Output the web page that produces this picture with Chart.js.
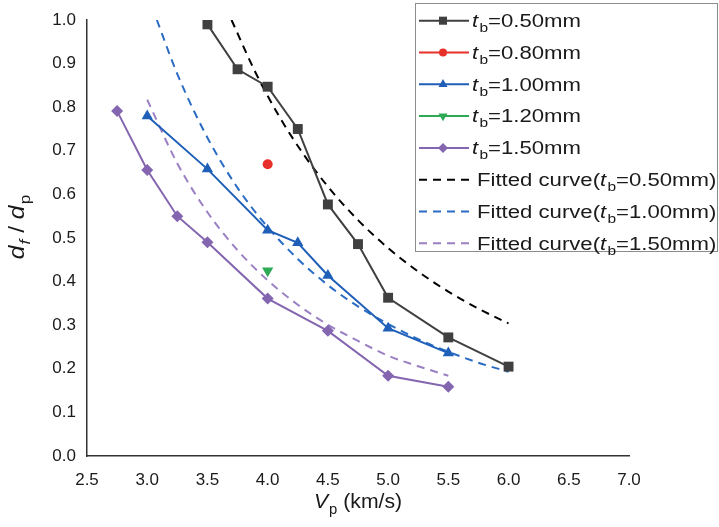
<!DOCTYPE html>
<html><head><meta charset="utf-8">
<script src="https://cdn.jsdelivr.net/npm/chart.js@4/dist/chart.umd.min.js"></script>
<style>html,body{margin:0;padding:0;background:#fff;}#wrap{position:relative;width:719px;height:527px;}</style>
</head><body><div id="wrap"><canvas id="c" width="719" height="527"></canvas></div>
<script>
// ---- data ----
const xTicks = [2.5, 3.0, 3.5, 4.0, 4.5, 5.0, 5.5, 6.0, 6.5, 7.0];
const yTicks = [0.0, 0.1, 0.2, 0.3, 0.4, 0.5, 0.6, 0.7, 0.8, 0.9, 1.0];

const vp050 = [3.5, 3.75, 4.0, 4.25, 4.5, 4.75, 5.0, 5.5, 6.0];
const r050  = [0.99, 0.887, 0.847, 0.75, 0.577, 0.486, 0.363, 0.272, 0.205];
const vp080 = [4.0];
const r080  = [0.669];
const vp100 = [3.0, 3.5, 4.0, 4.25, 4.5, 5.0, 5.5];
const r100  = [0.78, 0.658, 0.518, 0.489, 0.414, 0.293, 0.236];
const vp120 = [4.0];
const r120  = [0.425];
const vp150 = [2.75, 3.0, 3.25, 3.5, 4.0, 4.5, 5.0, 5.5];
const r150  = [0.791, 0.656, 0.55, 0.49, 0.361, 0.287, 0.184, 0.159];

const fitVp050 = [3.7, 3.9, 4.1, 4.3, 4.5, 4.75, 5.0, 5.25, 5.5, 5.75, 6.0];
const fitR050  = [1.0, 0.879, 0.777, 0.691, 0.618, 0.541, 0.477, 0.423, 0.377, 0.338, 0.304];
const fitVp100 = [3.08, 3.25, 3.5, 3.75, 4.0, 4.25, 4.5, 4.75, 5.0, 5.25, 5.5, 5.75, 6.0];
const fitR100  = [1.0, 0.876, 0.730, 0.615, 0.525, 0.452, 0.392, 0.343, 0.303, 0.268, 0.239, 0.214, 0.193];
const fitVp150 = [3.0, 3.25, 3.5, 3.75, 4.0, 4.25, 4.5, 4.75, 5.0, 5.25, 5.5];
const fitR150  = [0.817, 0.671, 0.559, 0.472, 0.403, 0.347, 0.301, 0.264, 0.230, 0.206, 0.184];

const legendLabels = ['0.50mm', '0.80mm', '1.00mm', '1.20mm', '1.50mm', '0.50mm', '1.00mm', '1.50mm'];

// ---- helpers ----
const pts = (xs, ys) => xs.map((x, i) => ({x: x, y: ys[i]}));
const FONT = '"Liberation Sans", Arial, sans-serif';

const C_BLACK = '#404040', C_RED = '#e8302a', C_BLUE = '#1f5fb8', C_GREEN = '#2ea956', C_PURPLE = '#8466b0';

function solid(label, xs, ys, color, style, radius, rot, legR) {
  return {label, data: pts(xs, ys), borderColor: color, backgroundColor: color,
    borderWidth: 2, pointStyle: style, pointRadius: radius, pointRotation: rot || 0,
    pointBorderWidth: 0, pointBackgroundColor: color, tension: 0, fill: false, kind: 'solid', legR: legR};
}
function dashed(label, xs, ys, color) {
  return {label, data: pts(xs, ys), borderColor: color, backgroundColor: color,
    borderWidth: 2, borderDash: [8, 6], pointRadius: 0, cubicInterpolationMode: 'monotone',
    fill: false, kind: 'dash'};
}

const datasets = [
  solid('tb=0.50mm', vp050, r050, C_BLACK, 'rect', 7, 0, 5.7),
  solid('tb=0.80mm', vp080, r080, C_RED, 'circle', 5, 0, 4),
  solid('tb=1.00mm', vp100, r100, C_BLUE, 'triangle', 6.5, 0, 5.2),
  solid('tb=1.20mm', vp120, r120, C_GREEN, 'triangle', 6.5, 180, 5.2),
  solid('tb=1.50mm', vp150, r150, C_PURPLE, 'rectRot', 6, 0, 5),
  dashed('Fitted curve(tb=0.50mm)', fitVp050, fitR050, '#000000'),
  dashed('Fitted curve(tb=1.00mm)', fitVp100, fitR100, '#2a6cc4'),
  dashed('Fitted curve(tb=1.50mm)', fitVp150, fitR150, '#9b80c4'),
];

function richWidth(ctx, parts, size) {
  let w = 0;
  for (const p of parts) {
    const s = p.sub ? size * 0.7 : size;
    ctx.font = (p.it ? 'italic ' : '') + s + 'px ' + FONT;
    w += ctx.measureText(p.t).width + (p.it && !p.sub ? 1 : 0);
  }
  return w;
}
function drawRich(ctx, parts, x, y, size, color) {
  ctx.fillStyle = color;
  ctx.textBaseline = 'alphabetic';
  ctx.textAlign = 'left';
  for (const p of parts) {
    const s = p.sub ? size * 0.7 : size;
    ctx.font = (p.it ? 'italic ' : '') + s + 'px ' + FONT;
    ctx.fillText(p.t, x, y + (p.sub ? size * 0.28 : 0));
    x += ctx.measureText(p.t).width + (p.it && !p.sub ? 1 : 0);
  }
  return x;
}
// draw rich text with horizontal stretch sx, starting at x (or centered)
function drawRichStretched(ctx, parts, x, y, size, color, sx) {
  ctx.save();
  ctx.translate(x, y);
  ctx.scale(sx, 1);
  drawRich(ctx, parts, 0, 0, size, color);
  ctx.restore();
}

const decor = {
  id: 'decor',
  afterDraw(chart) {
    const ctx = chart.ctx;
    ctx.save();
    // x title
    const xt = [{t: 'V', it: true}, {t: 'p', sub: true}, {t: ' (km/s)'}];
    const xs = 1.06;
    const xw = richWidth(ctx, xt, 20) * xs;
    drawRichStretched(ctx, xt, 358 - xw / 2, 508, 20, '#1a1a1a', xs);
    // y title
    ctx.save();
    ctx.translate(24, 227);
    ctx.rotate(-Math.PI / 2);
    const yt = [{t: 'd', it: true}, {t: 'f', sub: true, it: true}, {t: ' / '}, {t: 'd', it: true}, {t: 'p', sub: true}];
    const ys = 1.12;
    const yw = richWidth(ctx, yt, 22) * ys;
    drawRichStretched(ctx, yt, -yw / 2, 0, 22, '#1a1a1a', ys);
    ctx.restore();

    // legend
    const L = 415, T = 3, R = 718, B = 252;
    ctx.fillStyle = '#ffffff';
    ctx.fillRect(L, T, R - L, B - T);
    ctx.strokeStyle = '#8c8c8c';
    ctx.lineWidth = 1;
    ctx.strokeRect(L + 0.5, T + 0.5, R - L - 1, B - T - 1);
    const rowH = 31.8;
    chart.data.datasets.forEach((ds, i) => {
      const cy = 20.7 + i * rowH;
      ctx.save();
      ctx.strokeStyle = ds.borderColor;
      ctx.lineWidth = 2;
      if (ds.kind === 'dash') ctx.setLineDash([8, 6]);
      ctx.beginPath();
      ctx.moveTo(419, cy);
      ctx.lineTo(469, cy);
      ctx.stroke();
      ctx.restore();
      if (ds.kind === 'solid') {
        ctx.save();
        ctx.fillStyle = ds.borderColor;
        ctx.strokeStyle = ds.borderColor;
        Chart.helpers.drawPoint(ctx, {pointStyle: ds.pointStyle, rotation: ds.pointRotation, radius: ds.legR, borderWidth: 0},
          443, cy);
        ctx.restore();
      }
      let parts;
      if (ds.kind === 'solid') {
        parts = [{t: 't', it: true}, {t: 'b', sub: true}, {t: '=' + legendLabels[i]}];
      } else {
        parts = [{t: 'Fitted curve('}, {t: 't', it: true}, {t: 'b', sub: true}, {t: '=' + legendLabels[i] + ')'}];
      }
      drawRichStretched(ctx, parts, ds.kind === 'solid' ? 472 : 477, cy + 6.3, 18, '#1a1a1a', 1.23);
    });
    ctx.restore();
  }
};

new Chart(document.getElementById('c'), {
  type: 'line',
  data: {datasets},
  options: {
    responsive: false, animation: false, devicePixelRatio: 1,
    layout: {padding: {left: 0, top: 20, right: 90, bottom: 0}},
    plugins: {legend: {display: false}, tooltip: {enabled: false}},
    scales: {
      x: {
        type: 'linear', min: 2.5, max: 7.0,
        afterBuildTicks: s => { s.ticks = xTicks.map(v => ({value: v})); },
        afterFit: s => { s.height = 71; },
        ticks: {callback: v => v.toFixed(1), color: '#1a1a1a', font: {family: FONT, size: 17}, padding: 6, maxRotation: 0, autoSkip: false},
        grid: {display: false},
        border: {display: true, color: '#333333', width: 1.5}
      },
      y: {
        type: 'linear', min: 0, max: 1.0,
        afterBuildTicks: s => { s.ticks = yTicks.map(v => ({value: v})); },
        afterFit: s => { s.width = 87; },
        ticks: {callback: v => v.toFixed(1), color: '#1a1a1a', font: {family: FONT, size: 17}, padding: 3, autoSkip: false},
        grid: {display: false},
        border: {display: true, color: '#333333', width: 1.5}
      }
    }
  },
  plugins: [decor]
});
</script></body></html>
